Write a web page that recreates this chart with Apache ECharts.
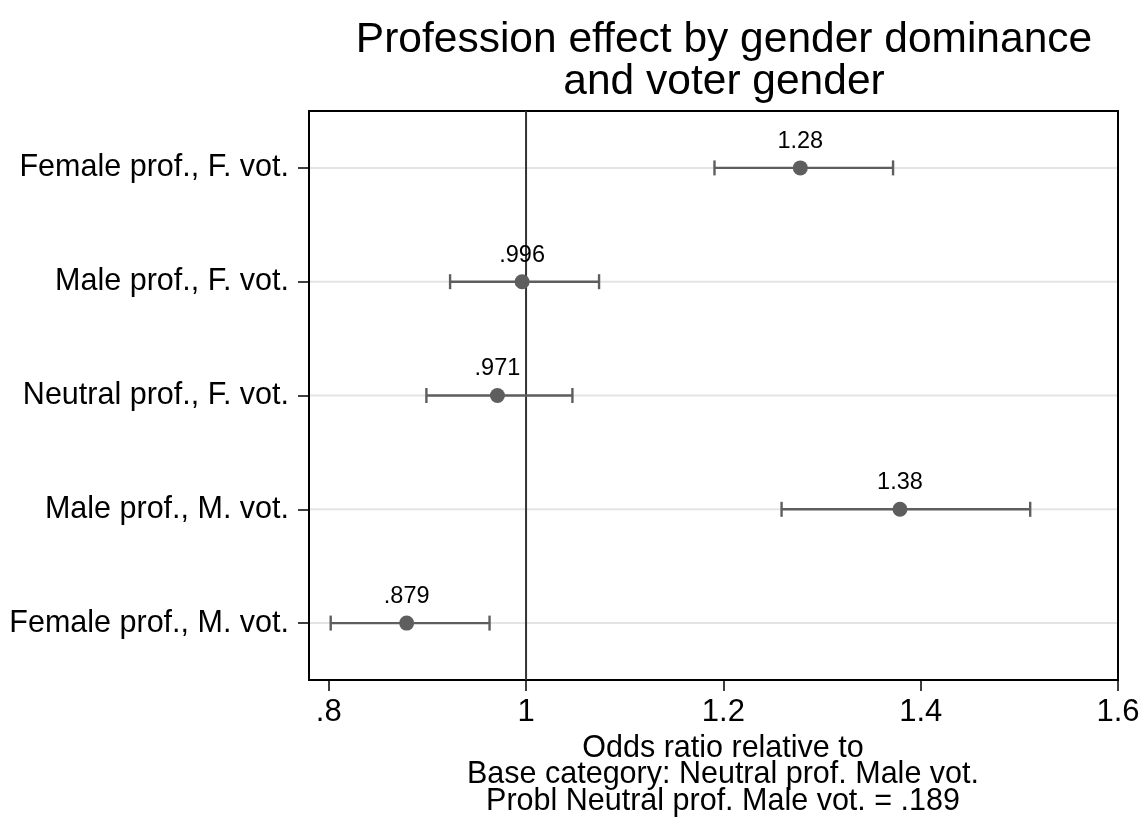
<!DOCTYPE html>
<html><head><meta charset="utf-8">
<script src="https://cdn.jsdelivr.net/npm/echarts@6/dist/echarts.min.js"></script>
<style>html,body{margin:0;padding:0;background:#fff}#c{width:1140px;height:819px}</style>
</head><body><div id="c"></div>
<script>
const categories = ['Female prof., F. vot.', 'Male prof., F. vot.', 'Neutral prof., F. vot.', 'Male prof., M. vot.', 'Female prof., M. vot.'];
const estimates = [1.278, 0.996, 0.971, 1.379, 0.879];
const lowerCI = [1.191, 0.923, 0.899, 1.259, 0.802];
const upperCI = [1.372, 1.074, 1.047, 1.511, 0.963];
const xTickValues = [0.8, 1.0, 1.2, 1.4, 1.6];
const xTickLabels = ['.8', '1', '1.2', '1.4', '1.6'];
const referenceValue = [1];
const titleLines = ['Profession effect by gender dominance', 'and voter gender'];
const xAxisTitleLines = ['Odds ratio relative to', 'Base category: Neutral prof. Male vot.', 'Probl Neutral prof. Male vot. = .189'];

const FONT = "'Liberation Sans', Arial, Helvetica, sans-serif";
const markColor = '#5e5e5e';
const GRID = {left: 309, top: 111, width: 809, height: 569};
const TICK_LEN = 11;

function stataFmt(v) {
  let s = Number(v).toPrecision(3);
  if (s.indexOf('.') >= 0) s = s.replace(/0+$/, '').replace(/\.$/, '');
  return s.replace(/^0\./, '.');
}

const chart = echarts.init(document.getElementById('c'), null, {renderer: 'canvas'});
chart.setOption({
  backgroundColor: '#fff',
  animation: false,
  textStyle: {fontFamily: FONT},
  title: {
    text: titleLines.join('\n'),
    left: 719, top: 14, textAlign: 'center',
    textStyle: {fontSize: 42.5, lineHeight: 42, fontWeight: 'normal', color: '#000', fontFamily: FONT}
  },
  grid: Object.assign({show: true, borderColor: '#000', borderWidth: 2, outerBoundsMode: 'none', containLabel: false}, GRID),
  xAxis: {
    type: 'value', min: 0.78, max: 1.6,
    axisLine: {show: true, lineStyle: {color: '#000', width: 2}},
    axisTick: {show: true, length: TICK_LEN, customValues: xTickValues, lineStyle: {color: '#000', width: 1.5}},
    axisLabel: {
      customValues: xTickValues, fontSize: 31, color: '#000', margin: 17, fontFamily: FONT,
      formatter: v => { const i = xTickValues.findIndex(t => Math.abs(t - v) < 1e-9); return i >= 0 ? xTickLabels[i] : ''; }
    },
    splitLine: {show: false},
    name: xAxisTitleLines.join('\n'), nameLocation: 'middle', nameGap: 52,
    nameTextStyle: {fontSize: 30.5, lineHeight: 26.5, color: '#000', fontFamily: FONT, padding: [0, 0, 0, 19]}
  },
  yAxis: {
    type: 'category', data: categories, inverse: true, boundaryGap: true,
    axisLine: {show: true, lineStyle: {color: '#000', width: 2}},
    axisTick: {show: true, alignWithLabel: true, length: TICK_LEN, lineStyle: {color: '#000', width: 1.5}},
    axisLabel: {fontSize: 30.5, color: '#000', margin: 20, fontFamily: FONT},
    splitLine: {show: false}
  },
  series: [
    {
      type: 'custom', z: 1, silent: true,
      data: categories.map(c => [c]),
      encode: {y: 0},
      renderItem: (params, api) => {
        const cs = params.coordSys;
        const y = api.coord([1, api.value(0)])[1];
        return {type: 'line', shape: {x1: cs.x + 1, y1: y, x2: cs.x + cs.width - 1, y2: y}, style: {stroke: '#e4e4e4', lineWidth: 2}};
      }
    },
    {
      type: 'custom', z: 2, silent: true,
      data: referenceValue.map(v => [v]),
      encode: {x: 0},
      renderItem: (params, api) => {
        const cs = params.coordSys;
        const x = api.coord([api.value(0), 0])[0];
        return {type: 'line', shape: {x1: x, y1: cs.y, x2: x, y2: cs.y + cs.height}, style: {stroke: '#333', lineWidth: 2}};
      }
    },
    {
      type: 'custom', z: 3, silent: true,
      data: categories.map((c, i) => [lowerCI[i], upperCI[i], c]),
      encode: {x: [0, 1], y: 2},
      renderItem: (params, api) => {
        const lo = api.coord([api.value(0), api.value(2)]);
        const hi = api.coord([api.value(1), api.value(2)]);
        const h = 7.5;
        const st = {stroke: markColor, lineWidth: 2.4};
        return {type: 'group', children: [
          {type: 'line', shape: {x1: lo[0], y1: lo[1], x2: hi[0], y2: hi[1]}, style: st},
          {type: 'line', shape: {x1: lo[0], y1: lo[1] - h, x2: lo[0], y2: lo[1] + h}, style: st},
          {type: 'line', shape: {x1: hi[0], y1: hi[1] - h, x2: hi[0], y2: hi[1] + h}, style: st}
        ]};
      }
    },
    {
      type: 'scatter', z: 4, silent: true,
      data: categories.map((c, i) => [estimates[i], c]),
      symbol: 'circle', symbolSize: 15,
      itemStyle: {color: markColor, opacity: 1},
      label: {show: true, position: 'top', distance: 7, fontSize: 23.5, color: '#000', opacity: 1, fontFamily: FONT,
        formatter: p => stataFmt(p.value[0])}
    }
  ]
});
</script></body></html>
